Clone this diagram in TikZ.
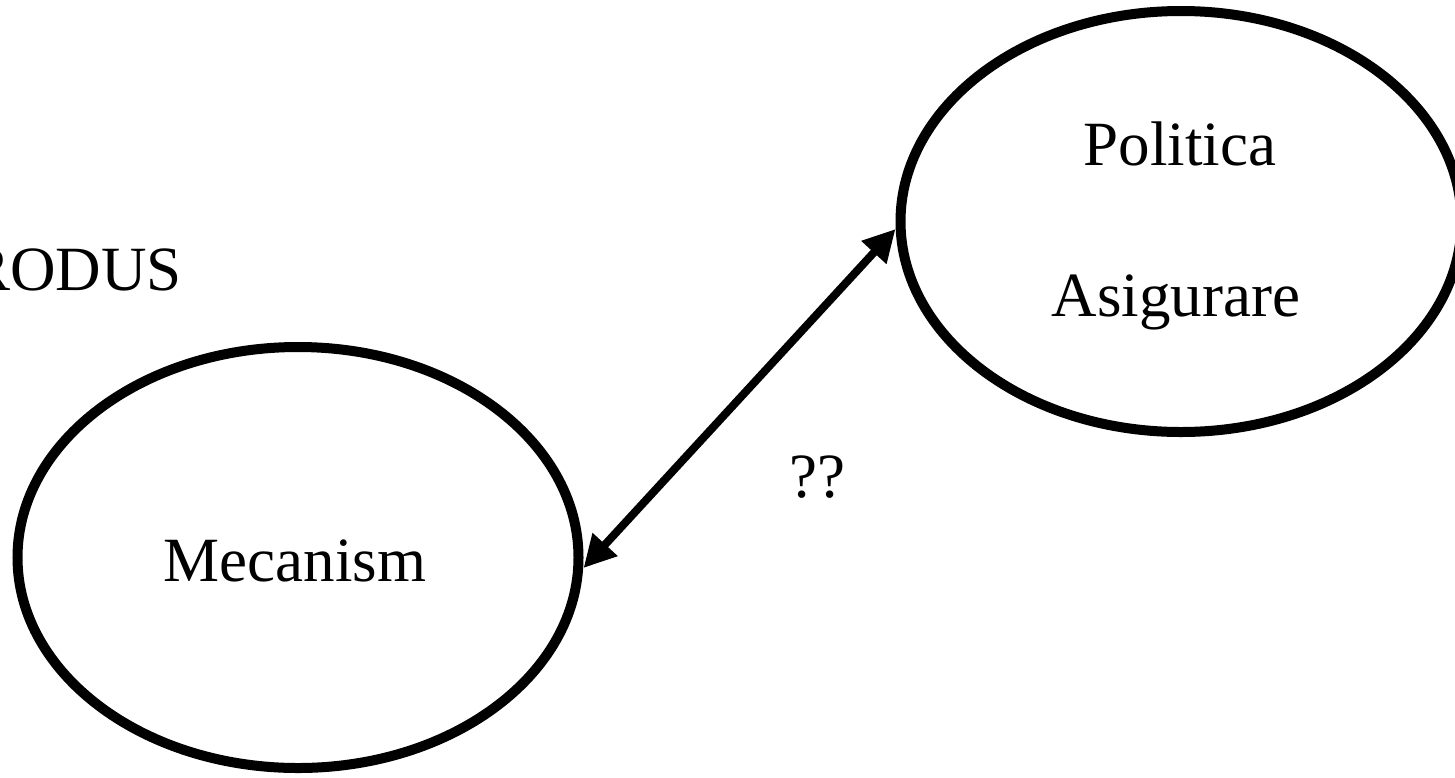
\documentclass[tikz,border=0pt]{standalone}
\usepackage{fontspec}
\setmainfont{Liberation Serif}
\usetikzlibrary{shapes.geometric,arrows.meta}
\begin{document}
\begin{tikzpicture}[x=1pt,y=-1pt,
  bubble/.style={ellipse,draw=black,line width=10pt,inner sep=0pt,
    minimum width=561pt,minimum height=421pt},
  label/.style={font=\fontsize{63}{75}\selectfont,inner sep=0pt,anchor=base},
  link/.style={line width=8pt,{Triangle[length=32pt,width=32pt]}-{Triangle[length=32pt,width=32pt]}}]
  \useasboundingbox[fill=white] (0,0) rectangle (1455,777);

  % the two concepts
  \node[bubble] (mec) at (298,557.5) {};
  \node[bubble] (pol) at (1181,221.5) {};

  \node[label] (tmec) at (295,581) {Mecanism};
  \node[label] (tpol) at (1180,165) {Politica};
  \node[label] (tasi) at (1176,316) {Asigurare};

  % heading, running off the left edge
  \node[label,anchor=base east] (prod) at (182,290) {PRODUS};

  % two-way link between the concepts
  \coordinate (a) at ([yshift=-10.5pt]mec.east);
  \coordinate (b) at ([yshift=-7.5pt]pol.west);
  \draw[link] (a) -- (b);
  \node[label] (q) at (817,497) {??};
\end{tikzpicture}
\end{document}
